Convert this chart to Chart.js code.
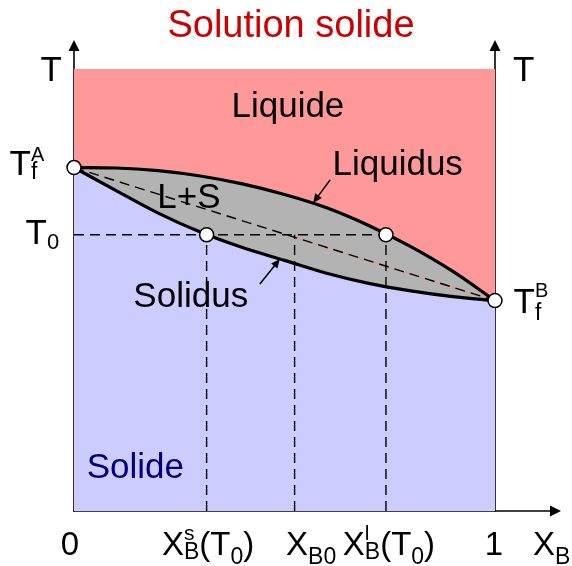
<!DOCTYPE html>
<html>
<head>
<meta charset="utf-8">
<title>Solution solide</title>
<script src="https://cdn.jsdelivr.net/npm/chart.js@4.4.1/dist/chart.umd.min.js"></script>
<style>
  html, body { margin: 0; padding: 0; background: #fff; }
  canvas { display: block; }
</style>
</head>
<body>
<canvas id="phase" width="572" height="566"></canvas>
<script>
// Binary A-B phase diagram with complete solid solubility.
// x: mole fraction of B (0 = pure A, 1 = pure B); y: reduced temperature (0..1).
const liquidusX = [0, 0.1, 0.2, 0.3, 0.4, 0.5, 0.6, 0.7, 0.8, 0.9, 1];
const liquidusT = [0.777, 0.776, 0.770, 0.758, 0.740, 0.716, 0.686, 0.646, 0.598, 0.542, 0.476];
const solidusX  = [0, 0.1, 0.2, 0.3, 0.4, 0.5, 0.6, 0.7, 0.8, 0.9, 1];
const solidusT  = [0.777, 0.725, 0.674, 0.631, 0.596, 0.567, 0.538, 0.515, 0.498, 0.485, 0.476];

const meltA = 0.777;   // T_f^A, melting point of pure A
const meltB = 0.476;   // T_f^B, melting point of pure B
const T0 = 0.625;      // working temperature
const xSolid = 0.315;  // X_B^s(T0)
const xMix = 0.524;    // X_B0, overall composition
const xLiquid = 0.741; // X_B^l(T0)

// Tick values and their (rich) labels on the composition axis
const xTickValues = [0, xSolid, xMix, xLiquid, 1];
const xTickLabels = [
  [{ t: '0' }],
  [{ t: 'X' }, { sup: 's', sub: 'B' }, { t: '(T' }, { sub: '0' }, { t: ')' }],
  [{ t: 'X' }, { sub: 'B0' }],
  [{ t: 'X' }, { sup: 'l', sub: 'B' }, { t: '(T' }, { sub: '0' }, { t: ')' }],
  [{ t: '1' }]
];
const meltALabel = [{ t: 'T' }, { sup: 'A', sub: 'f' }];
const meltBLabel = [{ t: 'T' }, { sup: 'B', sub: 'f' }];
const t0Label = [{ t: 'T' }, { sub: '0' }];

const FONT = '"Liberation Sans", Arial, Helvetica, sans-serif';
const pts = (xs, ts) => xs.map((x, i) => ({ x: x, y: ts[i] }));
const onTieDiagonal = x => meltA + (meltB - meltA) * x;

function setFont(ctx, size) { ctx.font = size + 'px ' + FONT; }

// Measure / draw text made of plain runs, subscripts, superscripts and stacked pairs
function partWidth(ctx, p, st) {
  if (p.t !== undefined) { setFont(ctx, st.size); return ctx.measureText(p.t).width; }
  let w = 0;
  if (p.sup !== undefined) { setFont(ctx, st.supSize); w = Math.max(w, ctx.measureText(p.sup).width); }
  if (p.sub !== undefined) { setFont(ctx, st.subSize); w = Math.max(w, ctx.measureText(p.sub).width); }
  return w;
}
function drawRich(ctx, parts, x, y, st, align) {
  let total = 0;
  parts.forEach(p => { total += partWidth(ctx, p, st); });
  let cx = align === 'center' ? x - total / 2 : (align === 'right' ? x - total : x);
  ctx.textAlign = 'left';
  ctx.textBaseline = 'alphabetic';
  parts.forEach(p => {
    const w = partWidth(ctx, p, st);
    if (p.t !== undefined) {
      setFont(ctx, st.size); ctx.fillText(p.t, cx, y);
    } else {
      const stacked = p.sup !== undefined && p.sub !== undefined;
      if (p.sup !== undefined) { setFont(ctx, st.supSize); ctx.fillText(p.sup, cx, y + st.supDy); }
      if (p.sub !== undefined) {
        setFont(ctx, st.subSize);
        ctx.fillText(p.sub, cx, y + (stacked ? st.stackSubDy : st.subDy));
      }
    }
    cx += w;
  });
}

function arrowHead(ctx, tx, ty, fx, fy, len, half) {
  const a = Math.atan2(ty - fy, tx - fx);
  ctx.beginPath();
  ctx.moveTo(tx, ty);
  ctx.lineTo(tx - len * Math.cos(a) + half * Math.sin(a), ty - len * Math.sin(a) - half * Math.cos(a));
  ctx.lineTo(tx - len * Math.cos(a) - half * Math.sin(a), ty - len * Math.sin(a) + half * Math.cos(a));
  ctx.closePath();
  ctx.fill();
}

// Axes with arrow tips, drawn over the coloured regions but under the curves
const axesPlugin = {
  id: 'phaseAxes',
  beforeDatasetsDraw(chart) {
    const ctx = chart.ctx;
    const { left, right, top, bottom } = chart.chartArea;
    ctx.save();
    ctx.strokeStyle = '#000';
    ctx.fillStyle = '#000';
    ctx.lineWidth = 1.6;
    const tipY = top - 29, tipX = right + 66;
    [left, right].forEach(ax => {
      ctx.beginPath(); ctx.moveTo(ax, bottom + 0.8); ctx.lineTo(ax, tipY + 8); ctx.stroke();
      arrowHead(ctx, ax, tipY, ax, bottom, 11, 5.5);
    });
    ctx.beginPath(); ctx.moveTo(left - 0.8, bottom); ctx.lineTo(tipX - 8, bottom); ctx.stroke();
    arrowHead(ctx, tipX, bottom, left, bottom, 11, 5.5);
    ctx.restore();
  }
};

// Text labels and the pointer arrows
const labelPlugin = {
  id: 'phaseLabels',
  afterDraw(chart) {
    const ctx = chart.ctx;
    const xs = chart.scales.x, ys = chart.scales.y;
    const X = v => xs.getPixelForValue(v), Y = v => ys.getPixelForValue(v);
    const { left, right, top, bottom } = chart.chartArea;
    ctx.save();

    // title
    ctx.fillStyle = '#cc0000';
    setFont(ctx, 38);
    ctx.textAlign = 'center';
    ctx.textBaseline = 'alphabetic';
    ctx.fillText('Solution solide', (left + right) / 2 + 6.5, 37);

    // axis names
    ctx.fillStyle = '#000';
    setFont(ctx, 35);
    ctx.textAlign = 'left';
    ctx.fillText('T', left - 33.5, top + 11.7);
    ctx.fillText('T', right + 18, top + 11.7);

    // region and curve names
    ctx.fillText('Liquide', X(0.374), Y(0.892));
    ctx.fillText('Liquidus', X(0.614), Y(0.760));
    ctx.fillText('L+S', X(0.198), Y(0.685));
    ctx.fillText('Solidus', X(0.141), Y(0.462));
    ctx.fillStyle = '#000080';
    ctx.fillText('Solide', X(0.030), Y(0.074));

    // temperature labels
    ctx.fillStyle = '#000';
    const tStyle = { size: 35, supSize: 20, subSize: 23, supDy: -14.3, subDy: 5.3, stackSubDy: 4.3 };
    drawRich(ctx, meltALabel, left - 64.5, Y(meltA) + 7.5, tStyle, 'left');
    drawRich(ctx, t0Label, left - 48.5, Y(T0) + 9, Object.assign({}, tStyle, { subSize: 22 }), 'left');
    drawRich(ctx, meltBLabel, right + 18.5, Y(meltB) + 12.8,
      Object.assign({}, tStyle, { supDy: -16.6, stackSubDy: 6.7 }), 'left');

    // composition axis labels
    const xStyle = { size: 33, supSize: 21, subSize: 23, supDy: -15, subDy: 8.4, stackSubDy: 3.4 };
    const xShift = [-4, 1.5, 16.5, 3, -1];
    xTickValues.forEach((v, i) => {
      drawRich(ctx, xTickLabels[i], X(v) + xShift[i], bottom + 44.3, xStyle, 'center');
    });
    drawRich(ctx, [{ t: 'X' }, { sub: 'B' }], right + 38, bottom + 44.3, xStyle, 'left');

    // pointer arrows to the two curves
    ctx.strokeStyle = '#000';
    ctx.lineWidth = 1.5;
    const pointers = [
      { x: 0.568, t: 0.697, dx: 17, dy: -23 },
      { x: 0.489, t: 0.570, dx: -20, dy: 25 }
    ];
    pointers.forEach(p => {
      const tx = X(p.x), ty = Y(p.t), fx = tx + p.dx, fy = ty + p.dy;
      const a = Math.atan2(ty - fy, tx - fx);
      ctx.beginPath();
      ctx.moveTo(fx, fy);
      ctx.lineTo(tx - 6 * Math.cos(a), ty - 6 * Math.sin(a));
      ctx.stroke();
      arrowHead(ctx, tx, ty, fx, fy, 9, 4);
    });
    ctx.restore();
  }
};

const dashed = { borderColor: '#000', borderWidth: 1.4, borderDash: [10, 6], pointRadius: 0, fill: false, order: 2 };
const smooth = { cubicInterpolationMode: 'monotone', pointRadius: 0 };

new Chart(document.getElementById('phase'), {
  type: 'scatter',
  data: {
    datasets: [
      { label: 'points', data: [{ x: 0, y: meltA }, { x: xSolid, y: T0 }, { x: xLiquid, y: T0 }, { x: 1, y: meltB }],
        showLine: false, pointRadius: 7, pointHoverRadius: 7, pointBackgroundColor: '#ffffff',
        pointBorderColor: '#000000', pointBorderWidth: 1.5, order: 0, clip: false },
      Object.assign({ label: 'Liquidus', data: pts(liquidusX, liquidusT), showLine: true,
        borderColor: '#000', borderWidth: 3.2, fill: 'end', backgroundColor: '#ff9999', order: 1 }, smooth),
      Object.assign({ label: 'Solidus', data: pts(solidusX, solidusT), showLine: true,
        borderColor: '#000', borderWidth: 3.2, fill: false, order: 1 }, smooth),
      Object.assign({ label: 'T0', data: [{ x: 0, y: T0 }, { x: 1, y: T0 }], showLine: true }, dashed),
      Object.assign({ label: 'tie', data: [{ x: 0, y: meltA }, { x: 1, y: meltB }], showLine: true }, dashed),
      Object.assign({ label: 'xs', data: [{ x: xSolid, y: 0 }, { x: xSolid, y: T0 }], showLine: true }, dashed),
      Object.assign({ label: 'x0', data: [{ x: xMix, y: 0 }, { x: xMix, y: T0 }], showLine: true }, dashed),
      Object.assign({ label: 'xl', data: [{ x: xLiquid, y: 0 }, { x: xLiquid, y: T0 }], showLine: true }, dashed),
      { label: 'tie (thin)', data: [{ x: xMix, y: onTieDiagonal(xMix) }, { x: 1, y: meltB }], showLine: true,
        borderColor: '#ff8a8a', borderWidth: 1, pointRadius: 0, fill: false, order: 3 },
      Object.assign({ label: 'two-phase', data: pts(liquidusX, liquidusT), showLine: true,
        borderWidth: 0, borderColor: 'rgba(0,0,0,0)', fill: 'start', backgroundColor: '#b3b3b3', order: 10 }, smooth),
      Object.assign({ label: 'solid', data: pts(solidusX, solidusT), showLine: true,
        borderWidth: 0, borderColor: 'rgba(0,0,0,0)', fill: 'start', backgroundColor: '#ccccff', order: 9 }, smooth)
    ]
  },
  options: {
    responsive: false,
    animation: false,
    events: [],
    layout: { padding: { left: 74, right: 77, top: 69, bottom: 55 } },
    scales: {
      x: { type: 'linear', min: 0, max: 1, display: false },
      y: { type: 'linear', min: 0, max: 1, display: false }
    },
    plugins: { legend: { display: false }, tooltip: { enabled: false } }
  },
  plugins: [axesPlugin, labelPlugin]
});
</script>
</body>
</html>
